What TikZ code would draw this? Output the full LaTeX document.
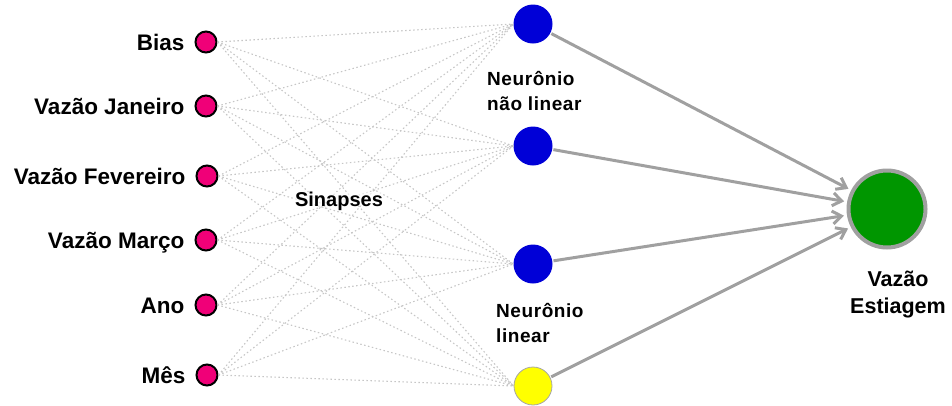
\documentclass[tikz,border=0pt]{standalone}
\usepackage{fontspec}
\setmainfont{Liberation Sans}
\newfontfamily\notefont[LetterSpace=3.0]{Liberation Sans}
\usetikzlibrary{positioning, arrows.meta}
\definecolor{my_pink}{RGB}{240, 0, 120}
\definecolor{my_blue}{RGB}{0, 0, 215}
\definecolor{my_yellow}{RGB}{255, 255, 0}
\definecolor{my_green}{RGB}{0, 150, 0}
\definecolor{my_gray}{RGB}{160, 160, 160}
\tikzset {
  inp/.style = {circle, draw=black, line width=2pt, fill=my_pink, minimum size=21pt, inner sep=0pt},
  hid/.style = {circle, fill=my_blue, minimum size=39pt, inner sep=0pt},
  lin/.style = {circle, draw=gray!70, line width=0.8pt, fill=my_yellow, minimum size=38pt, inner sep=0pt},
  outp/.style = {circle, draw=my_gray, line width=4pt, fill=my_green, minimum size=77pt, inner sep=0pt},
  lbl/.style = {font=\bfseries\fontsize{22.5}{26}\selectfont, inner sep=0pt, text height=16pt, text depth=0pt},
  note/.style = {font=\notefont\bfseries\fontsize{19}{24.5}\selectfont, align=left, inner sep=0pt},
  synapse/.style = {color=gray!45, line width=1.1pt, dash pattern=on 1.5pt off 2.5pt},
  line/.style = {-{Straight Barb[length=9pt, width=13pt]}, color=my_gray, line width=3pt, shorten >=3pt, shorten <=1pt},
}

\begin{document}
\begin{tikzpicture}[x=1pt, y=-1pt]
    \useasboundingbox (0,0) rectangle (952,405);

    % input layer
    \node[inp] (bias) at (206,42) {};
    \node[inp] (jan) at (206,106) {};
    \node[inp] (fev) at (207,176) {};
    \node[inp] (mar) at (206,240) {};
    \node[inp] (ano) at (206,305) {};
    \node[inp] (mes) at (207,375) {};

    \node[lbl, left=10pt of bias] (lbias) {Bias};
    \node[lbl, left=10pt of jan] (ljan) {Vazão Janeiro};
    \node[lbl, left=10pt of fev] (lfev) {Vazão Fevereiro};
    \node[lbl, left=10pt of mar] (lmar) {Vazão Março};
    \node[lbl, left=10pt of ano] (lano) {Ano};
    \node[lbl, left=10pt of mes] (lmes) {Mês};

    % hidden layer
    \node[hid] (h1) at (533,24) {};
    \node[hid] (h2) at (533,146) {};
    \node[hid] (h3) at (533,264) {};
    \node[lin] (h4) at (533,386) {};

    \node[note, anchor=base west] (nonlin) at (487,110) {Neurônio\\não linear};
    \node[note, anchor=base west] (linear) at (496,342) {Neurônio\\linear};

    % output
    \node[outp] (out) at (887,209) {};
    \node[align=center, anchor=base, inner sep=0pt, font=\bfseries\fontsize{21.5}{26.5}\selectfont] (lout) at (898,313) {Vazão\\Estiagem};

    % synapses
    \foreach \i in {bias, jan, fev, mar, ano, mes}
      \foreach \j in {h1, h2, h3, h4}
        \draw[synapse] (\i.east) -- (\j.west);

    \node[lbl, font=\bfseries\fontsize{20}{24}\selectfont, text height=14pt, fill=white, fill opacity=0.6, text opacity=1] (syn) at (339,199) {Sinapses};

    \foreach \j in {h1, h2, h3, h4}
      \draw[line] (\j) -- (out);

\end{tikzpicture}
\end{document}
